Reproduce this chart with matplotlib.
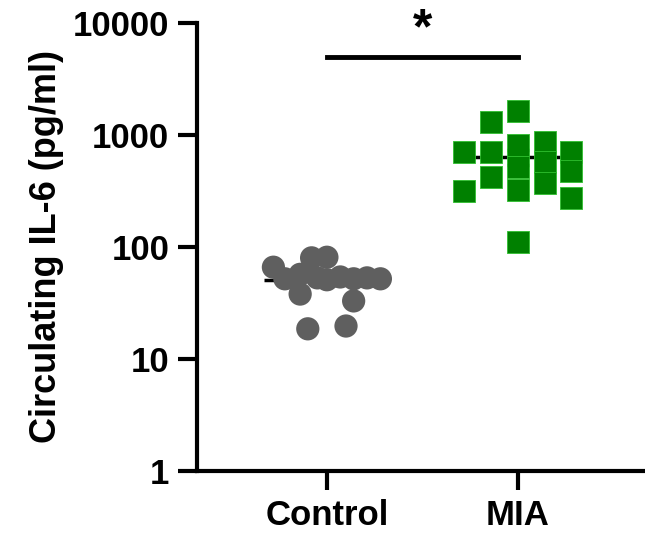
import matplotlib
matplotlib.use("Agg")
import matplotlib.pyplot as plt
import numpy as np

# values (pg/ml)
groups = ["Control", "MIA"]
control_vals = [66, 80, 81, 57, 52, 38, 53, 51, 54, 52, 53, 52, 33, 18.6, 19.7]
control_jit = [-0.28, -0.08, 0.0, -0.14, -0.22, -0.14, -0.05, 0.0, 0.07, 0.14, 0.21, 0.28, 0.14, -0.10, 0.10]
mia_vals = [705, 316, 1306, 705, 422, 1638, 815, 518, 323, 111, 866, 574, 373, 705, 477, 274]
mia_jit = [-0.28, -0.28, -0.14, -0.14, -0.14, 0.0, 0.0, 0.0, 0.0, 0.0, 0.14, 0.14, 0.14, 0.28, 0.28, 0.28]
yticks = [1, 10, 100, 1000, 10000]

plt.rcParams['font.family'] = ['Liberation Sans', 'DejaVu Sans']
plt.rcParams['font.weight'] = 'bold'

fig = plt.figure(figsize=(6.45, 5.37), dpi=100)
ax = fig.add_axes([0.3054, 0.1229, 0.6946, 0.8343])

ax.scatter(np.array(control_jit) + 0, control_vals, s=280, marker='o',
           color='#5f5f5f', edgecolors='none', zorder=2)
ax.scatter(np.array(mia_jit) + 1, mia_vals, s=240, marker='s',
           color='#008000', edgecolors='#2fbf2f', linewidths=0.6, zorder=2)

# mean +/- SEM
for i, vals in enumerate([control_vals, mia_vals]):
    v = np.array(vals)
    m = v.mean()
    sem = v.std(ddof=1) / np.sqrt(len(v))
    ax.hlines(m, i - 0.33, i + 0.32, color='black', lw=2.5, zorder=1)
    ax.errorbar(i, m, yerr=sem, color='black', lw=2.5, capsize=8,
                capthick=2.5, zorder=1)

ax.set_yscale('log')
ax.set_ylim(1, 10000)
ax.set_xlim(-0.68, 1.665)
ax.set_yticks(yticks)
ax.set_yticklabels([str(t) for t in yticks])
ax.minorticks_off()
ax.set_xticks([0, 1])
ax.set_xticklabels(groups)
ax.tick_params(axis='both', width=3, length=14, labelsize=25, pad=6)
for s in ['top', 'right']:
    ax.spines[s].set_visible(False)
for s in ['left', 'bottom']:
    ax.spines[s].set_linewidth(3)
ax.set_ylabel("Circulating IL-6 (pg/ml)", fontsize=26, fontweight='bold', labelpad=6)

# significance bar
ax.plot([0, 1], [5000, 5000], color='black', lw=3.5, clip_on=False)
ax.text(0.5, 5400, "*", ha='center', va='bottom', fontsize=36, fontweight='bold')

fig.savefig("out.png", dpi=100)
